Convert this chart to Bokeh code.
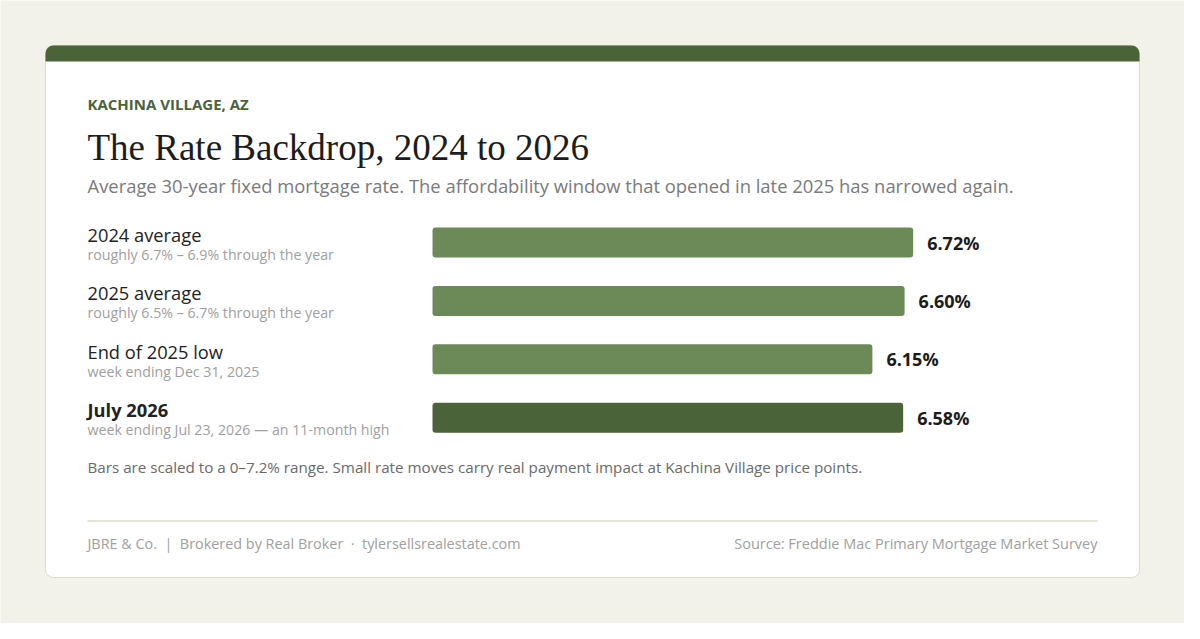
import numpy as np
from bokeh.plotting import figure
from bokeh.models import Range1d
from bokeh.core.properties import value
from bokeh.embed import file_html
from bokeh.resources import INLINE

# data
labels = ["2024 average", "2025 average", "End of 2025 low", "July 2026"]
sublabels = [
    "roughly 6.7% \u2013 6.9% through the year",
    "roughly 6.5% \u2013 6.7% through the year",
    "week ending Dec 31, 2025",
    "week ending Jul 23, 2026 \u2014 an 11-month high",
]
rates = [6.72, 6.60, 6.15, 6.58]
highlight = [False, False, False, True]
scale_max = 7.2

SANS = "Open Sans"
SERIF = "Liberation Serif"
GREEN = "#4b6339"
LIGHT = "#6c8a58"
BG = "#f3f2ea"

# page geometry in screen px
W, H = 1184, 623
BAR_X0, BAR_X1 = 440, 955
px_per_pct = (BAR_X1 - BAR_X0) / scale_max

p = figure(width=W, height=H, output_backend="svg", toolbar_location=None,
           x_range=Range1d(8, 8 + W), y_range=Range1d(8 + H, 8),
           x_axis_type=None, y_axis_type=None, min_border=0)
p.extra_x_ranges = {"rate": Range1d((8 - BAR_X0) / px_per_pct, (8 + W - BAR_X0) / px_per_pct)}
p.grid.visible = False
p.outline_line_color = None
p.background_fill_color = BG
p.border_fill_color = BG

# card
p.quad(left=53, right=1147, top=53, bottom=585, fill_color="white",
       line_color="#dcdbce", line_width=1, border_radius=8)
p.quad(left=53, right=1147, top=53, bottom=69, fill_color=GREEN,
       line_color=None, border_radius=[8, 8, 0, 0])

# header texts
p.text(x=[95], y=[111], text=["KACHINA VILLAGE, AZ"], text_baseline="middle",
       text_font=value(SANS), text_font_size=value("15px"), text_font_style="bold",
       text_color=GREEN)
p.text(x=[95], y=[155], text=["The Rate Backdrop, 2024 to 2026"], text_baseline="middle",
       text_font=value(SERIF), text_font_size=value("37px"), text_color="#1c1c1c")
p.text(x=[95], y=[193], text=["Average 30-year fixed mortgage rate. The affordability window that opened in late 2025 has narrowed again."],
       text_baseline="middle", text_font=value(SANS), text_font_size=value("18.4px"),
       text_color="#7a7a7a")

# rows
row_y = 250 + 58.4 * np.arange(len(rates))
colors = [GREEN if h else LIGHT for h in highlight]
styles = ["bold" if h else "normal" for h in highlight]

p.hbar(y=row_y, left=0, right=rates, height=30, fill_color=colors, line_color=None,
       border_radius=3, x_range_name="rate")
p.text(x=rates, y=row_y, text=[f"{r:.2f}%" for r in rates], x_offset=14,
       text_baseline="middle", text_font=value(SANS), text_font_size=value("18px"),
       text_font_style="bold", text_color="#1c1c1c", x_range_name="rate")

p.text(x=[95] * len(labels), y=row_y - 8, text=labels, text_baseline="middle",
       text_font=value(SANS), text_font_size=value("18.3px"), text_font_style=styles,
       text_color="#222222")
p.text(x=[95] * len(labels), y=row_y + 12, text=sublabels, text_baseline="middle",
       text_font=value(SANS), text_font_size=value("14.2px"), text_color="#a0a0a0")

# note
p.text(x=[95], y=[474], text=["Bars are scaled to a 0\u20137.2% range. Small rate moves carry real payment impact at Kachina Village price points."],
       text_baseline="middle", text_font=value(SANS), text_font_size=value("15.2px"),
       text_color="#6a6a6a")

# footer
p.segment(x0=[95], y0=[528.5], x1=[1105], y1=[528.5], line_color="#dedcd0", line_width=1.5)
p.text(x=[95], y=[551],
       text=["JBRE & Co.\u00a0\u00a0|\u00a0\u00a0Brokered by Real Broker\u00a0\u00a0\u00b7\u00a0\u00a0tylersellsrealestate.com"],
       text_baseline="middle", text_font=value(SANS), text_font_size=value("14.4px"),
       text_color="#a0a0a0")
p.text(x=[1105], y=[551], text=["Source: Freddie Mac Primary Mortgage Market Survey"],
       text_baseline="middle", text_align="right", text_font=value(SANS),
       text_font_size=value("14.5px"), text_color="#a0a0a0")

html = file_html(p, INLINE)
html = html.replace("<body>", '<body style="margin:8px;background:%s;">' % BG, 1)
open("out.html", "w").write(html)
